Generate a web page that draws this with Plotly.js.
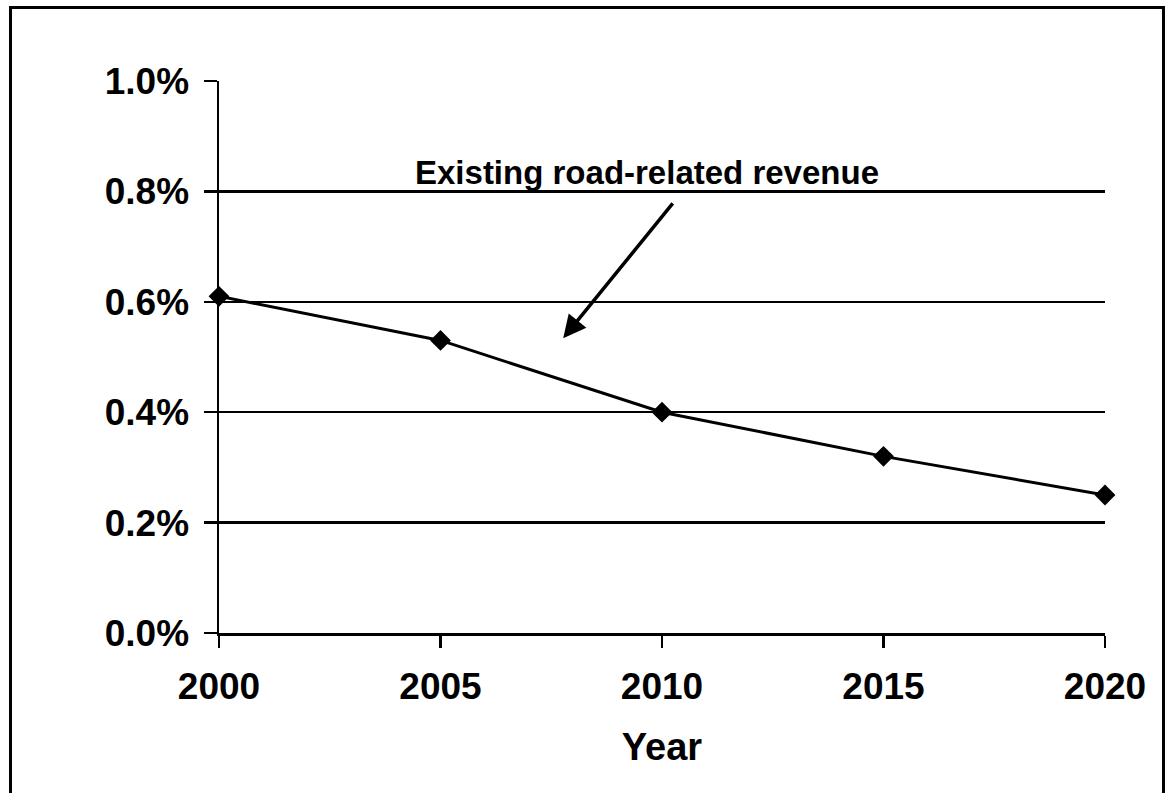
<!DOCTYPE html>
<html>
<head>
<meta charset="utf-8">
<script src="https://cdn.plot.ly/plotly-3.0.1.min.js"></script>
<style>
  html, body { margin: 0; padding: 0; background: #fff; overflow: hidden; }
  #wrap { position: relative; width: 1171px; height: 793px; }
  #chart { position: absolute; left: 0; top: 0; width: 1171px; height: 793px; }
  #frame { position: absolute; left: 9px; top: 6px; width: 1156px; height: 800px;
           border: 3px solid #000; box-sizing: border-box; pointer-events: none; }
</style>
</head>
<body>
<div id="wrap">
  <div id="chart"></div>
  <div id="frame"></div>
</div>
<script>
// Data (values in percent)
const years = [2000, 2005, 2010, 2015, 2020];
const revenueShare = [0.61, 0.53, 0.40, 0.32, 0.25];
const yTickValues = [0, 0.2, 0.4, 0.6, 0.8, 1.0];
const yTickLabels = ['0.0%', '0.2%', '0.4%', '0.6%', '0.8%', '1.0%'];
const xTickValues = [2000, 2005, 2010, 2015, 2020];
const xTickLabels = ['2000', '2005', '2010', '2015', '2020'];
const annotationText = 'Existing road-related revenue';
const xTitle = 'Year';

const FONT = 'Liberation Sans, Arial, sans-serif';

const trace = {
  x: years,
  y: revenueShare,
  type: 'scatter',
  mode: 'lines+markers',
  line: { color: '#000', width: 3 },
  marker: { symbol: 'diamond', size: 16, color: '#000' },
  cliponaxis: false,
  hoverinfo: 'skip'
};

const layout = {
  width: 1171,
  height: 793,
  margin: { l: 219, r: 66, t: 81, b: 160 },
  paper_bgcolor: 'rgba(0,0,0,0)',
  plot_bgcolor: '#fff',
  showlegend: false,
  font: { family: FONT, color: '#000' },
  xaxis: {
    range: [2000, 2020],
    tickvals: xTickValues,
    ticktext: xTickLabels,
    ticks: 'outside',
    ticklen: 12,
    tickwidth: 2.5,
    tickcolor: '#000',
    showline: true,
    linecolor: '#000',
    linewidth: 2.5,
    showgrid: false,
    zeroline: false,
    ticklabelstandoff: 7,
    tickfont: { family: FONT, size: 37, color: '#000', weight: 'bold' },
    title: { text: xTitle, font: { family: FONT, size: 38, color: '#000', weight: 'bold' }, standoff: 28 }
  },
  yaxis: {
    range: [0, 1.0],
    tickvals: yTickValues,
    ticktext: yTickLabels,
    ticks: 'outside',
    ticklen: 13,
    tickwidth: 2.5,
    tickcolor: '#000',
    showline: true,
    linecolor: '#000',
    linewidth: 2.5,
    showgrid: true,
    gridcolor: '#000',
    gridwidth: 2.5,
    zeroline: false,
    ticklabelstandoff: 7,
    tickfont: { family: FONT, size: 37, color: '#000', weight: 'bold' }
  },
  annotations: [
    {
      x: 2009.66, y: 0.835, xref: 'x', yref: 'y',
      text: annotationText, showarrow: false,
      font: { family: FONT, size: 33, color: '#000', weight: 'bold' },
      xanchor: 'center', yanchor: 'middle'
    },
    {
      x: 2007.77, y: 0.534, xref: 'x', yref: 'y',
      ax: 2010.27, ay: 0.781, axref: 'x', ayref: 'y',
      text: '', showarrow: true,
      arrowhead: 2, arrowsize: 1.3, arrowwidth: 3.5, arrowcolor: '#000', standoff: 0
    }
  ]
};

Plotly.newPlot('chart', [trace], layout, { staticPlot: true, displayModeBar: false });
</script>
</body>
</html>
